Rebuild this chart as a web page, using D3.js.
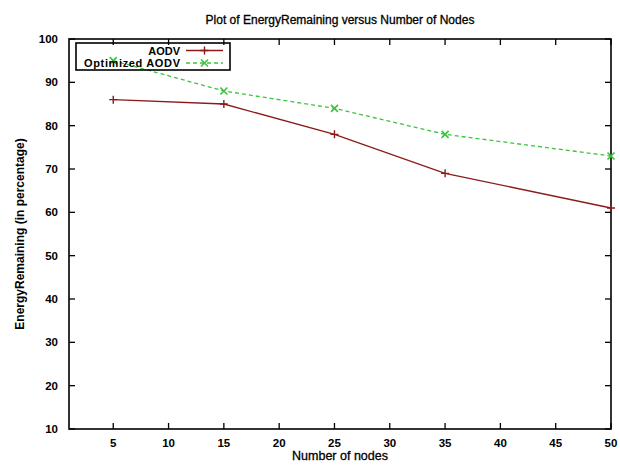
<!DOCTYPE html>
<html><head><meta charset="utf-8">
<script src="https://cdn.jsdelivr.net/npm/d3@7"></script>
<style>body{margin:0;background:#fff}svg{display:block}text{font-family:"Liberation Sans",Arial,sans-serif}</style>
</head><body>
<svg id="c" width="620" height="466"></svg>
<script>
const nodes = [5, 15, 25, 35, 50];
const aodv = [86, 85, 78, 69, 61];
const optimized = [95, 88, 84, 78, 73];
const xTicks = [5, 10, 15, 20, 25, 30, 35, 40, 45, 50];
const yTicks = [10, 20, 30, 40, 50, 60, 70, 80, 90, 100];
const seriesNames = ["AODV", "Optimized AODV"];

const svg = d3.select("#c");
const L = 69, R = 611, T = 39, B = 429;
const x = d3.scaleLinear().domain([1, 50]).range([L, R]);
const y = d3.scaleLinear().domain([10, 100]).range([B, T]);

svg.append("rect").attr("x", L).attr("y", T).attr("width", R - L).attr("height", B - T)
  .attr("fill", "none").attr("stroke", "#000").attr("stroke-width", 1.6);

const tl = 6;
const gx = svg.append("g");
xTicks.forEach(t => {
  gx.append("line").attr("x1", x(t)).attr("x2", x(t)).attr("y1", B).attr("y2", B - tl).attr("stroke", "#000").attr("stroke-width", 1.3);
  gx.append("line").attr("x1", x(t)).attr("x2", x(t)).attr("y1", T).attr("y2", T + tl).attr("stroke", "#000").attr("stroke-width", 1.3);
  gx.append("text").attr("x", x(t)).attr("y", B + 18).attr("text-anchor", "middle")
    .attr("font-size", 11.5).attr("font-weight", "bold").text(t);
});
const gy = svg.append("g");
yTicks.forEach(t => {
  gy.append("line").attr("x1", L).attr("x2", L + tl).attr("y1", y(t)).attr("y2", y(t)).attr("stroke", "#000").attr("stroke-width", 1.3);
  gy.append("line").attr("x1", R).attr("x2", R - tl).attr("y1", y(t)).attr("y2", y(t)).attr("stroke", "#000").attr("stroke-width", 1.3);
  gy.append("text").attr("x", 58).attr("y", y(t) + 4).attr("text-anchor", "end")
    .attr("font-size", 11.5).attr("font-weight", "bold").text(t);
});

svg.append("text").attr("x", (L + R) / 2).attr("y", 24).attr("text-anchor", "middle")
  .attr("font-size", 12).attr("stroke", "#000").attr("stroke-width", 0.3).text("Plot of EnergyRemaining versus Number of Nodes");
svg.append("text").attr("x", (L + R) / 2).attr("y", 460).attr("text-anchor", "middle")
  .attr("font-size", 12.5).attr("stroke", "#000").attr("stroke-width", 0.3).text("Number of nodes");
svg.append("text").attr("transform", `translate(24,${(T + B) / 2}) rotate(-90)`).attr("text-anchor", "middle")
  .attr("font-size", 12).attr("font-weight", "bold").text("EnergyRemaining (in percentage)");

const colors = ["#8b1a1a", "#3cc43c"];
const dashes = [null, "4,3"];
const data = [aodv, optimized];
const line = d3.line().x(d => x(d[0])).y(d => y(d[1]));

function plus(g, cx, cy, c) {
  g.append("path").attr("d", `M${cx-4},${cy}H${cx+4}M${cx},${cy-4}V${cy+4}`).attr("stroke", c).attr("stroke-width", 1.4);
}
function cross(g, cx, cy, c) {
  g.append("path").attr("d", `M${cx-3.5},${cy-3.5}L${cx+3.5},${cy+3.5}M${cx-3.5},${cy+3.5}L${cx+3.5},${cy-3.5}`).attr("stroke", c).attr("stroke-width", 1.6);
}

data.forEach((vals, i) => {
  const pts = nodes.map((n, j) => [n, vals[j]]);
  const g = svg.append("g");
  g.append("path").attr("d", line(pts)).attr("fill", "none").attr("stroke", colors[i])
    .attr("stroke-width", 1.3).attr("stroke-dasharray", dashes[i]);
  pts.forEach(p => (i === 0 ? plus : cross)(g, x(p[0]), y(p[1]), colors[i]));
});

const lg = svg.append("g");
lg.append("rect").attr("x", 76).attr("y", 43).attr("width", 154).attr("height", 27)
  .attr("fill", "none").attr("stroke", "#000").attr("stroke-width", 1.6);
seriesNames.forEach((s, i) => {
  const ly = 50.5 + i * 12.5;
  lg.append("text").attr("x", 180).attr("y", ly + 4).attr("text-anchor", "end")
    .attr("font-size", 11).attr("font-weight", "bold").attr("textLength", i ? 96 : null).text(s);
  lg.append("line").attr("x1", 186).attr("x2", 223).attr("y1", ly).attr("y2", ly)
    .attr("stroke", colors[i]).attr("stroke-width", 1.3).attr("stroke-dasharray", dashes[i]);
  (i === 0 ? plus : cross)(lg, 204.5, ly, colors[i]);
});
</script>
</body></html>
